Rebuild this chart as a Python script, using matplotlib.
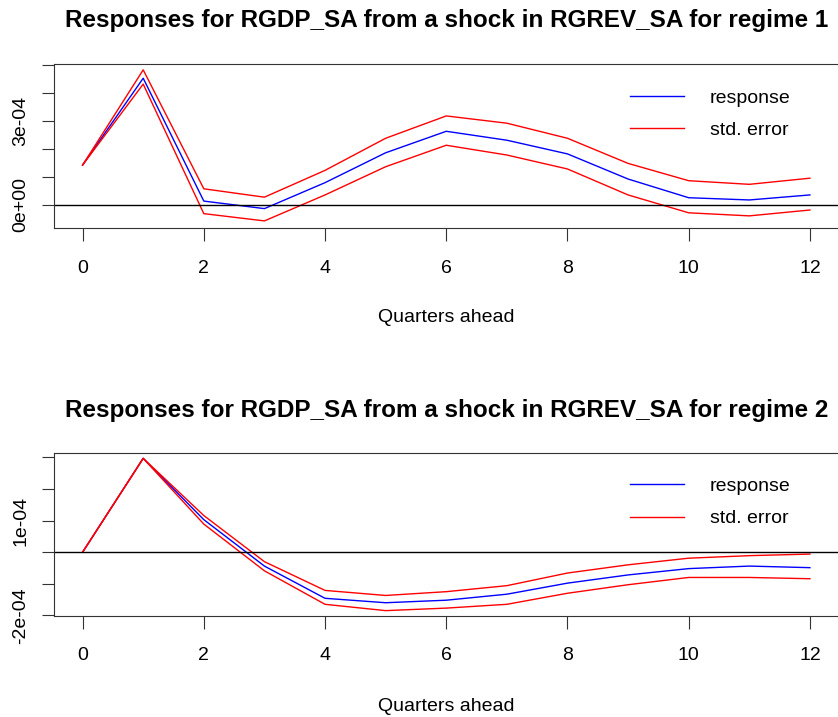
import matplotlib
matplotlib.use("Agg")
import matplotlib.pyplot as plt
import numpy as np

plt.rcParams['font.family'] = ['Liberation Sans', 'DejaVu Sans']

quarters = list(range(13))

r1_response = [1.43, 4.54, 0.14, -0.13, 0.80, 1.87, 2.64, 2.32, 1.83, 0.93, 0.26, 0.18, 0.36]
r1_upper = [1.43, 4.84, 0.58, 0.28, 1.24, 2.39, 3.19, 2.93, 2.39, 1.49, 0.87, 0.74, 0.96]
r1_lower = [1.43, 4.33, -0.31, -0.57, 0.36, 1.37, 2.14, 1.79, 1.29, 0.36, -0.28, -0.39, -0.18]

r2_response = [0.0, 2.97, 1.03, -0.44, -1.46, -1.60, -1.52, -1.33, -0.98, -0.72, -0.52, -0.44, -0.49]
r2_upper = [0.0, 2.97, 1.16, -0.30, -1.21, -1.37, -1.25, -1.06, -0.66, -0.40, -0.19, -0.11, -0.06]
r2_lower = [0.0, 2.97, 0.89, -0.59, -1.65, -1.85, -1.77, -1.65, -1.30, -1.03, -0.80, -0.80, -0.84]

scale = 1e-4

x_ticks = [0, 2, 4, 6, 8, 10, 12]
r1_yticks = [0, 1, 2, 3, 4, 5]
r1_ylabels = ['0e+00', '', '', '3e-04', '', '']
r2_yticks = [-2, -1, 0, 1, 2, 3]
r2_ylabels = ['-2e-04', '', '', '1e-04', '', '']

titles = ["Responses for RGDP_SA from a shock in RGREV_SA for regime 1",
          "Responses for RGDP_SA from a shock in RGREV_SA for regime 2"]

W, H = 838, 717
fig = plt.figure(figsize=(W / 100, H / 100), dpi=100)

def px_axes(left, top, right, bottom):
    return fig.add_axes([left / W, 1 - bottom / H, (right - left) / W, (bottom - top) / H])

panels = [
    dict(box=(53.5, 64, 839, 228.3), resp=r1_response, up=r1_upper, lo=r1_lower,
         ylim=(-0.835, 5.05), yt=r1_yticks, yl=r1_ylabels, title=titles[0],
         title_y=27.3, xlab_y=322, leg_y=89),
    dict(box=(53.5, 453.3, 839, 616), resp=r2_response, up=r2_upper, lo=r2_lower,
         ylim=(-2.02, 3.13), yt=r2_yticks, yl=r2_ylabels, title=titles[1],
         title_y=416.6, xlab_y=711, leg_y=477.5),
]

for p in panels:
    ax = px_axes(*p['box'])
    x = np.array(quarters)
    ax.plot(x, np.array(p['resp']) * scale, color='#0000ff', lw=1.0, label='response')
    ax.plot(x, np.array(p['up']) * scale, color='#ff0000', lw=1.0, label='std. error')
    ax.plot(x, np.array(p['lo']) * scale, color='#ff0000', lw=1.0)
    ax.axhline(0, color='black', lw=1.0)
    ax.set_xlim(-0.48, 12.48)
    ax.set_ylim(p['ylim'][0] * scale, p['ylim'][1] * scale)
    ax.set_xticks(x_ticks)
    ax.set_xticklabels([str(v) for v in x_ticks], fontsize=14)
    ax.set_yticks([v * scale for v in p['yt']])
    ax.set_yticklabels(p['yl'], fontsize=14, rotation=90, va='center')
    ax.tick_params(axis='x', length=9, width=0.8, pad=13.5, color='#333333')
    ax.tick_params(axis='y', length=8.7, width=0.8, pad=8.5, color='#333333')
    for s in ax.spines.values():
        s.set_linewidth(0.8)
        s.set_color('#333333')
    cx = (p['box'][0] + p['box'][2]) / 2
    fig.text(cx / W, 1 - p['title_y'] / H, p['title'], ha='center', va='baseline',
             fontsize=17.5, fontweight='bold')
    fig.text(cx / W, 1 - p['xlab_y'] / H, 'Quarters ahead', ha='center', va='baseline',
             fontsize=14)
    ax.legend(loc='upper left', bbox_to_anchor=(630 / W, 1 - p['leg_y'] / H),
              bbox_transform=fig.transFigure, frameon=False, fontsize=14,
              handlelength=2.78, handletextpad=1.34, borderpad=0, borderaxespad=0,
              labelspacing=0.75)

fig.savefig('out.png', dpi=100)
